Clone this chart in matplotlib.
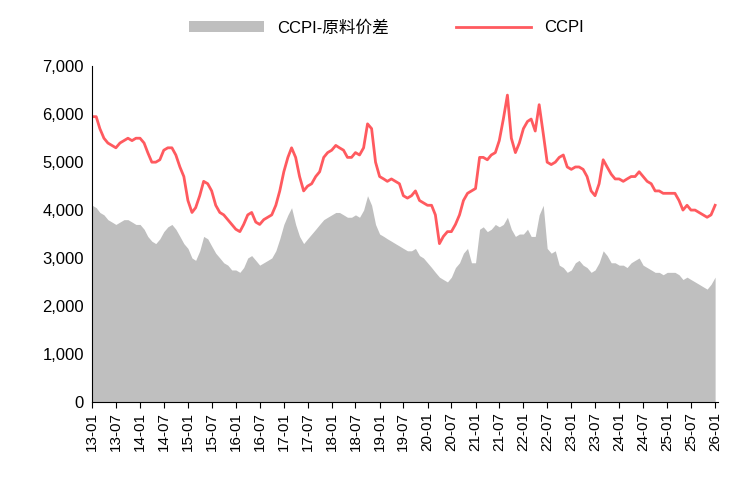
import matplotlib
matplotlib.use("Agg")
import matplotlib.pyplot as plt
import numpy as np
import pandas as pd

plt.rcParams['font.family'] = ['Liberation Sans', 'Noto Sans CJK SC', 'DejaVu Sans']

ccpi = [5950,5950,5700,5500,5400,5350,5300,5400,5450,5500,5450,5500,
        5500,5400,5200,5000,5000,5050,5250,5300,5300,5150,4900,4700,
        4200,3950,4050,4300,4600,4550,4400,4100,3950,3900,3800,3700,
        3600,3550,3700,3900,3950,3750,3700,3800,3850,3900,4100,4400,
        4800,5100,5300,5100,4700,4400,4500,4550,4700,4800,5100,5200,
        5250,5350,5300,5250,5100,5100,5200,5150,5300,5800,5700,5000,
        4700,4650,4600,4650,4600,4550,4300,4250,4300,4400,4200,4150,
        4100,4100,3900,3300,3450,3550,3550,3700,3900,4200,4350,4400,
        4450,5100,5100,5050,5150,5200,5450,5900,6400,5500,5200,5400,
        5700,5850,5900,5650,6200,5600,5000,4950,5000,5100,5150,4900,
        4850,4900,4900,4850,4700,4400,4300,4550,5050,4900,4750,4650,
        4650,4600,4650,4700,4700,4800,4700,4600,4550,4400,4400,4350,
        4350,4350,4350,4200,4000,4100,4000,4000,3950,3900,3850,3900,
        4100]
spread = [4100,4050,3950,3900,3800,3750,3700,3750,3800,3800,3750,3700,
          3700,3600,3450,3350,3300,3400,3550,3650,3700,3600,3450,3300,
          3200,3000,2950,3150,3450,3400,3250,3100,3000,2900,2850,2750,
          2750,2700,2800,3000,3050,2950,2850,2900,2950,3000,3150,3400,
          3700,3900,4050,3700,3450,3300,3400,3500,3600,3700,3800,3850,
          3900,3950,3950,3900,3850,3850,3900,3850,4000,4300,4100,3700,
          3500,3450,3400,3350,3300,3250,3200,3150,3150,3200,3050,3000,
          2900,2800,2700,2600,2550,2500,2600,2800,2900,3100,3200,2900,
          2900,3600,3650,3550,3600,3700,3650,3700,3850,3600,3450,3500,
          3500,3600,3450,3450,3900,4100,3200,3100,3150,2850,2800,2700,
          2750,2900,2950,2850,2800,2700,2750,2900,3150,3050,2900,2900,
          2850,2850,2800,2900,2950,3000,2850,2800,2750,2700,2700,2650,
          2700,2700,2700,2650,2550,2600,2550,2500,2450,2400,2350,2450,
          2600]
dates = pd.date_range("2013-01-01", periods=len(ccpi), freq="MS")
tick_dates = pd.date_range("2013-01-01", "2026-01-01", freq="6MS")
tick_labels = [d.strftime("%y-%m") for d in tick_dates]

fig = plt.figure(figsize=(7.43, 4.99), dpi=100)
ax = fig.add_axes([0.124, 0.195, 0.842, 0.672])
ax.fill_between(dates, spread, 0, color='#bfbfbf', linewidth=0, label='CCPI-原料价差')
ax.plot(dates, ccpi, color='#ff5a5f', linewidth=2, label='CCPI')
ax.set_ylim(0, 7000)
ax.set_xlim(dates[0], dates[-1] + pd.Timedelta(days=20))
ax.set_yticks(range(0, 7001, 1000))
ax.set_yticklabels([f"{v:,}" for v in range(0, 7001, 1000)], fontsize=12)
ax.set_xticks(tick_dates)
ax.set_xticklabels(tick_labels, rotation=90, fontsize=11)
for s in ['top', 'right']:
    ax.spines[s].set_visible(False)
ax.spines['left'].set_color('#000000')
ax.spines['bottom'].set_color('#000000')
ax.tick_params(axis='y', length=0, pad=6)
ax.tick_params(axis='x', length=4, direction='out')
fig.legend(loc='upper center', bbox_to_anchor=(0.52, 0.99), ncol=2, frameon=False,
           fontsize=12, handlelength=4.5, columnspacing=4)
fig.savefig("out.png", dpi=100)
